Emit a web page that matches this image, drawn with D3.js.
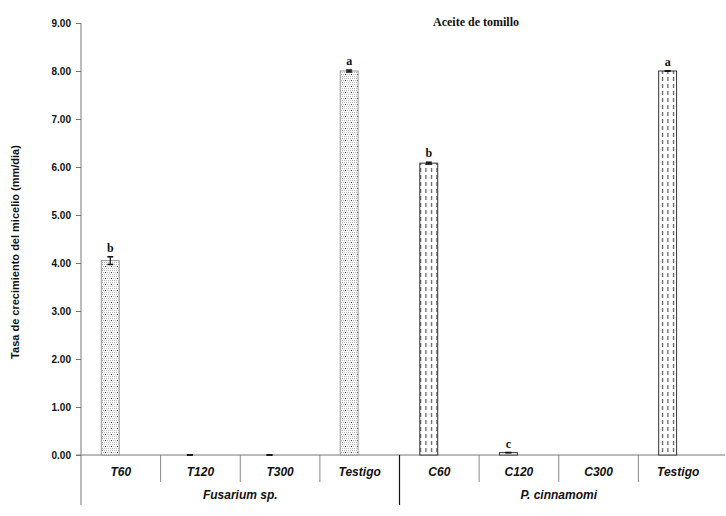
<!DOCTYPE html>
<html><head><meta charset="utf-8">
<script src="https://cdn.jsdelivr.net/npm/d3@7"></script>
<style>body{margin:0;background:#fff}svg{display:block}</style>
</head><body>
<svg id="c" width="726" height="516"></svg>
<script>
const categories = ["T60","T120","T300","Testigo","C60","C120","C300","Testigo"];
const groupOf = ["Fusarium sp.","Fusarium sp.","Fusarium sp.","Fusarium sp.","P. cinnamomi","P. cinnamomi","P. cinnamomi","P. cinnamomi"];
const groups = ["Fusarium sp.","P. cinnamomi"];
const values = [4.05, 0.0, 0.0, 8.0, 6.08, 0.05, 0.0, 8.0];
const errors = [0.08, 0.0, 0.0, 0.02, 0.02, 0.0, null, 0.0];
const letters = ["b","","","a","b","c","","a"];
const yTicks = [0,1,2,3,4,5,6,7,8,9];
const title = "Aceite de tomillo";
const yLabel = "Tasa de crecimiento del micelio (mm/dia)";

const svg = d3.select("#c");
const defs = svg.append("defs");
// dotted pattern for Fusarium
const p1 = defs.append("pattern").attr("id","dots").attr("patternUnits","userSpaceOnUse").attr("width",6).attr("height",6);
p1.append("rect").attr("width",6).attr("height",6).attr("fill","#fff");
[[0,0],[2,0],[4,0],[1,2],[3,2],[5,2],[0,4],[2,4],[4,4]].forEach(([x,y],i)=>{
  p1.append("rect").attr("x",x).attr("y",y).attr("width",1).attr("height",1).attr("fill", i===4?"#333":"#b8b8b8");
});
// dashed vertical lines pattern for P. cinnamomi
const p2 = defs.append("pattern").attr("id","dash").attr("patternUnits","userSpaceOnUse").attr("width",5.5).attr("height",7);
p2.append("rect").attr("width",5.5).attr("height",7).attr("fill","#fff");
p2.append("line").attr("x1",2.5).attr("x2",2.5).attr("y1",0).attr("y2",4).attr("stroke","#333").attr("stroke-width",1);

const ids = categories.map((c,i)=>i);
const x = d3.scaleBand().domain(ids).range([81,718]).padding(0);
const y = d3.scaleLinear().domain([0,9]).range([455,23]);
const bw = x.bandwidth();
const bx = i => x(i) + bw*0.255;
const bWidth = bw*0.225;

// y axis
const yAxis = d3.axisLeft(y).tickValues(yTicks).tickFormat(d3.format(".2f")).tickSize(5).tickSizeOuter(0);
const ya = svg.append("g").attr("transform","translate(81,0)").call(yAxis);
ya.select(".domain").remove();
ya.selectAll(".tick line").attr("stroke","#777");
ya.selectAll(".tick text").attr("font-family","Liberation Sans, Arial, sans-serif").attr("font-weight","bold").attr("font-size",10).attr("fill","#111").attr("x",-10);
svg.append("line").attr("x1",81).attr("x2",81).attr("y1",y(9)).attr("y2",505).attr("stroke","#777");

// baseline
svg.append("line").attr("x1",76).attr("x2",725).attr("y1",y(0)).attr("y2",y(0)).attr("stroke","#777");

// category dividers
ids.slice(1).forEach(i=>{
  const isGroup = groupOf[i] !== groupOf[i-1];
  svg.append("line").attr("x1",x(i)).attr("x2",x(i)).attr("y1",y(0)).attr("y2",isGroup?505:482)
    .attr("stroke", isGroup?"#111":"#888").attr("stroke-width",isGroup?1.2:1);
});

// bars
ids.forEach(i=>{
  const g = groupOf[i]===groups[0];
  if (values[i] > 0) {
    svg.append("rect").attr("x",bx(i)).attr("y",y(values[i])).attr("width",bWidth).attr("height",y(0)-y(values[i]))
      .attr("fill", g?"url(#dots)":"url(#dash)").attr("stroke", g?"#999":"#333").attr("stroke-width",1);
  }
  if (errors[i] !== null) {
    const cx = bx(i)+bWidth/2;
    const top = y(values[i]+errors[i]), bot = y(Math.max(0,values[i]-errors[i]));
    svg.append("line").attr("x1",cx).attr("x2",cx).attr("y1",top).attr("y2",bot).attr("stroke","#111").attr("stroke-width",1.2);
    svg.append("line").attr("x1",cx-3).attr("x2",cx+3).attr("y1",top).attr("y2",top).attr("stroke","#111").attr("stroke-width",1.5);
    svg.append("line").attr("x1",cx-3).attr("x2",cx+3).attr("y1",bot).attr("y2",bot).attr("stroke","#111").attr("stroke-width",1.5);
  }
  if (letters[i]) {
    svg.append("text").attr("x",bx(i)+bWidth/2).attr("y",y(values[i]+(errors[i]||0))-5)
      .attr("text-anchor","middle").attr("font-family","Liberation Serif, Times New Roman, serif")
      .attr("font-weight","bold").attr("font-size",12).attr("fill","#111").text(letters[i]);
  }
});

// category labels
ids.forEach(i=>{
  svg.append("text").attr("x",x(i)+bw/2).attr("y",476).attr("text-anchor","middle")
    .attr("font-family","Liberation Sans, Arial, sans-serif").attr("font-weight","bold").attr("font-style","italic")
    .attr("font-size",12).attr("fill","#111").text(categories[i]);
});
// group labels
groups.forEach(gname=>{
  const idx = ids.filter(i=>groupOf[i]===gname);
  const x0 = x(idx[0]), x1 = x(idx[idx.length-1])+bw;
  svg.append("text").attr("x",(x0+x1)/2).attr("y",499).attr("text-anchor","middle")
    .attr("font-family","Liberation Sans, Arial, sans-serif").attr("font-style","italic").attr("font-weight","bold")
    .attr("font-size",12).attr("fill","#111").text(gname);
});

// title
svg.append("text").attr("x",476).attr("y",26).attr("text-anchor","middle")
  .attr("font-family","Liberation Serif, Times New Roman, serif").attr("font-weight","bold").attr("font-size",12)
  .attr("fill","#111").text(title);

// y label
svg.append("text").attr("transform","translate(19,252) rotate(-90)").attr("text-anchor","middle")
  .attr("font-family","Liberation Sans, Arial, sans-serif").attr("font-weight","bold").attr("font-size",11)
  .attr("fill","#111").text(yLabel);
</script>
</body></html>
